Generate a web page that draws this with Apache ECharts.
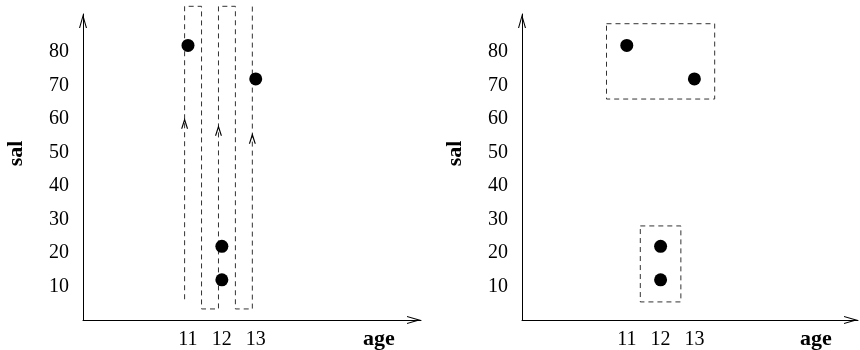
<!DOCTYPE html>
<html><head><meta charset="utf-8">
<script src="https://cdn.jsdelivr.net/npm/echarts@6/dist/echarts.min.js"></script>
<style>html,body{margin:0;padding:0;background:#fff}#c{width:860px;height:350px}</style>
</head><body><div id="c"></div>
<script>
// data
const ages = [11, 12, 12, 13];
const sals = [82, 22, 12, 72];
const xTicks = [11, 12, 13];
const yTicks = [10, 20, 30, 40, 50, 60, 70, 80];
// left panel: serpentine scan path (age, sal)
const scanX = [10.9, 10.9, 11.4, 11.4, 11.9, 11.9, 12.4, 12.4, 12.9, 12.9];
const scanY = [6.2, 93.7, 93.7, 3.3, 3.3, 93.7, 93.7, 3.3, 3.3, 93.7];
// left panel: upward arrow heads on the scan lines
const arrowX = [10.9, 11.9, 12.9];
const arrowY = [60.4, 58.3, 55.9];
// right panel: cluster boxes [xmin, xmax], [ymin, ymax]
const boxAX = [10.4, 13.6], boxAY = [66, 88.5];
const boxBX = [11.4, 12.6], boxBY = [5.4, 28.1];

const FONT = 'Liberation Serif';
const chevron = 'path://M0,14 L4,0 L8,14 L6.9,14 L4,3.85 L1.1,14 Z';
const smallChevron = 'path://M0,11 L3.5,0 L7,11 L5.8,11 L3.5,3.8 L1.2,11 Z';

const pts = ages.map((a, i) => [a, sals[i]]);
const scan = scanX.map((x, i) => [x, scanY[i]]);
const arrows = arrowX.map((x, i) => [x, arrowY[i]]);
function rect(xs, ys) {
  return [[xs[0], ys[1]], [xs[1], ys[1]], [xs[1], ys[0]], [xs[0], ys[0]], [xs[0], ys[1]]];
}

function xAxis(gi) {
  return {
    type: 'value', gridIndex: gi, min: 7.9, max: gi === 0 ? 17.88 : 17.84,
    name: 'age', nameLocation: 'end', nameGap: -42,
    nameTextStyle: { fontFamily: FONT, fontWeight: 'bold', fontSize: 22, color: '#000',
      align: 'center', verticalAlign: 'top', padding: [8, 0, 0, 0] },
    axisLine: { show: true, onZero: false, lineStyle: { color: '#000', width: 1 },
      symbol: ['none', chevron], symbolSize: [9, 14], symbolOffset: [0, -7] },
    axisTick: { show: false },
    splitLine: { show: false },
    axisLabel: { customValues: xTicks, fontFamily: FONT, fontSize: 20, color: '#000', margin: 10 }
  };
}
function yAxis(gi) {
  return {
    type: 'value', gridIndex: gi, min: 0, max: 91.4,
    name: 'sal', nameLocation: 'middle', nameGap: 56, nameRotate: 90,
    nameTextStyle: { fontFamily: FONT, fontWeight: 'bold', fontSize: 22, color: '#000',
      padding: [0, 0, 0, 27] },
    axisLine: { show: true, onZero: false, lineStyle: { color: '#000', width: 1 },
      symbol: ['none', chevron], symbolSize: [8, 14], symbolOffset: [0, -7] },
    axisTick: { show: false },
    splitLine: { show: false },
    axisLabel: { customValues: yTicks, fontFamily: FONT, fontSize: 20, color: '#000', margin: 14 }
  };
}
const dashStyle = { color: '#333', width: 1, type: [5, 4] };

const chart = echarts.init(document.getElementById('c'), null, { renderer: 'canvas' });
chart.setOption({
  animation: false,
  backgroundColor: '#fff',
  grid: [
    { left: 83, top: 14, width: 338, height: 306, outerBoundsMode: 'none', containLabel: false },
    { left: 522, top: 14, width: 336, height: 306, outerBoundsMode: 'none', containLabel: false }
  ],
  xAxis: [xAxis(0), xAxis(1)],
  yAxis: [yAxis(0), yAxis(1)],
  series: [
    { type: 'line', xAxisIndex: 0, yAxisIndex: 0, data: scan, symbol: 'none', clip: false,
      lineStyle: dashStyle, z: 1 },
    { type: 'scatter', xAxisIndex: 0, yAxisIndex: 0, data: arrows, symbol: smallChevron,
      symbolSize: [7, 11], symbolOffset: [0, 5.5], itemStyle: { color: '#000', opacity: 1 }, clip: false, z: 2 },
    { type: 'scatter', xAxisIndex: 0, yAxisIndex: 0, data: pts, symbolSize: 13,
      itemStyle: { color: '#000', opacity: 1 }, z: 3 },
    { type: 'line', xAxisIndex: 1, yAxisIndex: 1, data: rect(boxAX, boxAY), symbol: 'none', clip: false,
      lineStyle: dashStyle, z: 1 },
    { type: 'line', xAxisIndex: 1, yAxisIndex: 1, data: rect(boxBX, boxBY), symbol: 'none', clip: false,
      lineStyle: dashStyle, z: 1 },
    { type: 'scatter', xAxisIndex: 1, yAxisIndex: 1, data: pts, symbolSize: 13,
      itemStyle: { color: '#000', opacity: 1 }, z: 3 }
  ]
});
</script></body></html>
